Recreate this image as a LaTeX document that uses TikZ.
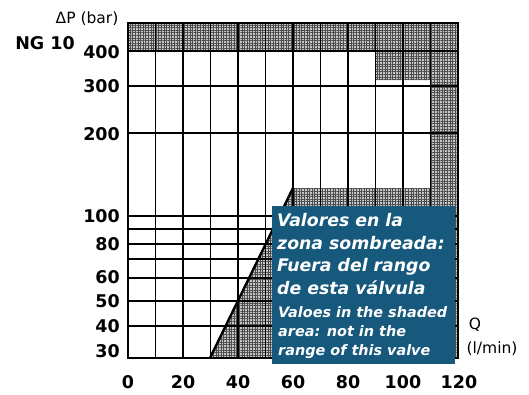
\documentclass[tikz,border=0pt]{standalone}
\usepackage{fontspec}
\setmainfont{DejaVu Sans}
\usetikzlibrary{patterns.meta}
\definecolor{boxblue}{RGB}{22,89,124}
\begin{document}
\begin{tikzpicture}[x=1pt,y=-1pt,
  gridline/.style={line width=1.4pt, black},
  oorzone/.style={fill=black!22, postaction={pattern={Hatch[angle=0,distance=2.6pt,line width=0.5pt]}, pattern color=black!70}},
  numlab/.style={inner sep=0, font=\fontsize{17.5}{20}\bfseries\selectfont},
  ylab/.style={numlab, anchor=east},
  xlab/.style={numlab, anchor=center},
  unitlab/.style={inner sep=0, font=\fontsize{15.5}{18}\selectfont},
  bigtxt/.style={inner sep=0, anchor=base west, text=white, font=\fontsize{17.3}{20}\bfseries\itshape\selectfont},
  smalltxt/.style={inner sep=0, anchor=base west, text=white, font=\fontsize{14.4}{17}\bfseries\itshape\selectfont}]
\useasboundingbox (0,0) rectangle (529,394);
% shaded zone (out of range)
\path[oorzone] (128,23) -- (458,23) -- (458,358) -- (210,358) -- (293,188) -- (430.5,188) -- (430.5,80) -- (375.5,80) -- (375.5,51) -- (128,51) -- cycle;
% grid
\foreach \q in {0,10,...,120} \draw[gridline] ({128+2.75*\q},23) -- ({128+2.75*\q},358);
\foreach \yy in {51,86,133,216,229,244,259,278,301,326} \draw[gridline] (128,\yy) -- (458,\yy);
\draw[gridline] (128,23) rectangle (458,358);
\draw[line width=2.4pt] (210,358) -- (293,188);
% y labels
\node[ylab] (y400) at (120,52) {400};
\node[ylab] (y300) at (120,86) {300};
\node[ylab] (y200) at (120,134) {200};
\node[ylab] (y100) at (120,216) {100};
\node[ylab] (y80) at (120,244) {80};
\node[ylab] (y60) at (120,277) {60};
\node[ylab] (y50) at (120,301) {50};
\node[ylab] (y40) at (120,326) {40};
\node[ylab] (y30) at (120,351) {30};
% x labels
\node[xlab] (x0) at (128,382) {0};
\node[xlab] (x20) at (183,382) {20};
\node[xlab] (x40) at (238,382) {40};
\node[xlab] (x60) at (293,382) {60};
\node[xlab] (x80) at (348,382) {80};
\node[xlab] (x100) at (403,382) {100};
\node[xlab] (x120) at (459,382) {120};
% axis titles
\node[unitlab] (dp) at (87,19) {ΔP (bar)};
\node[numlab] (ng) at (45,43) {NG 10};
\node[unitlab, anchor=base] (qq) at (475,329) {Q};
\node[unitlab] (qunit) at (492,349) {(l/min)};
% note box
\node[fill=boxblue, inner sep=0, minimum width=183pt, minimum height=158pt, anchor=north west] (box) at (272,206) {};
\node[bigtxt] (t1) at (277,226.7) {Valores en la};
\node[bigtxt] (t2) at (277,249.3) {zona sombreada:};
\node[bigtxt] (t3) at (277,271.8) {Fuera del rango};
\node[bigtxt] (t4) at (277,294.3) {de esta válvula};
\node[smalltxt] (t5) at (278,317.7) {Valoes in the shaded};
\node[smalltxt] (t6) at (278,336.7) {area: not in the};
\node[smalltxt] (t7) at (278,355.7) {range of this valve};
\end{tikzpicture}
\end{document}
